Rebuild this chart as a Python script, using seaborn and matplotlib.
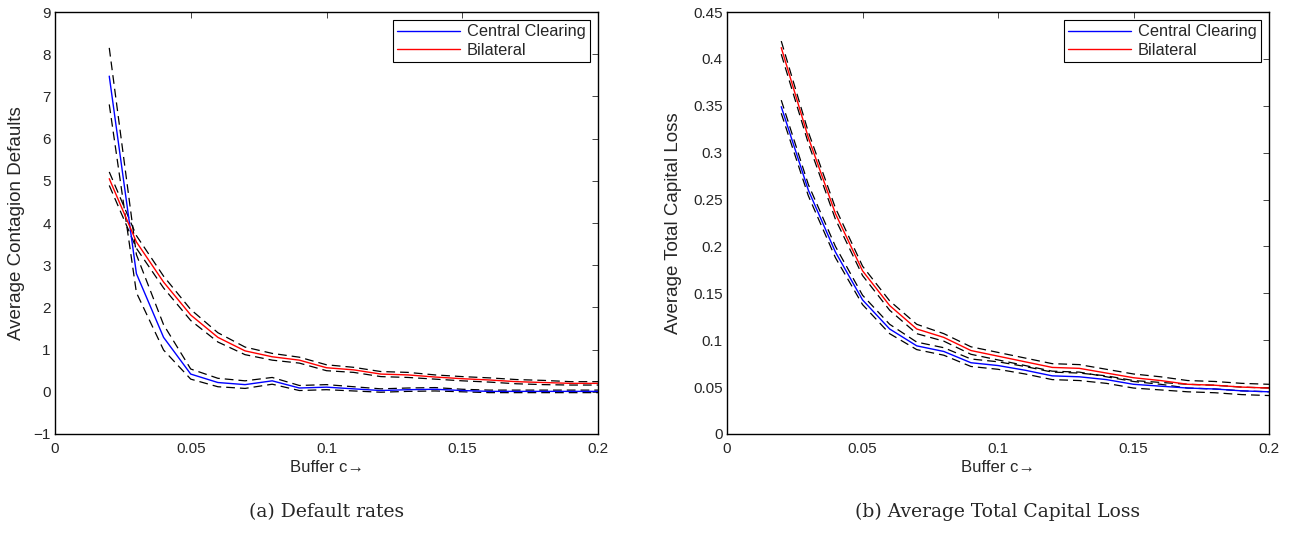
import numpy as np
import pandas as pd
import matplotlib
matplotlib.use("Agg")
import matplotlib.pyplot as plt
import seaborn as sns

buffer_c = [0.02, 0.03, 0.04, 0.05, 0.06, 0.07, 0.08, 0.09, 0.10, 0.11,
            0.12, 0.13, 0.14, 0.15, 0.16, 0.17, 0.18, 0.19, 0.20]

# Panel (a): average contagion defaults
defaults_central = [7.48, 2.80, 1.29, 0.42, 0.22, 0.17, 0.26, 0.09, 0.11, 0.07,
                    0.03, 0.05, 0.06, 0.03, 0.01, 0.01, 0.01, 0.01, 0.01]
defaults_central_ci = [0.67, 0.45, 0.30, 0.12, 0.10, 0.09, 0.08, 0.06, 0.06, 0.05,
                       0.04, 0.04, 0.04, 0.03, 0.03, 0.03, 0.03, 0.03, 0.03]
defaults_bilateral = [5.05, 3.55, 2.60, 1.82, 1.29, 0.97, 0.83, 0.75, 0.57, 0.52,
                      0.42, 0.40, 0.35, 0.31, 0.28, 0.24, 0.22, 0.20, 0.20]
defaults_bilateral_ci = [0.16, 0.15, 0.14, 0.13, 0.11, 0.09, 0.08, 0.07, 0.07, 0.06,
                         0.06, 0.06, 0.05, 0.05, 0.05, 0.05, 0.05, 0.04, 0.04]

# Panel (b): average total capital loss
loss_central = [0.349, 0.260, 0.194, 0.143, 0.112, 0.094, 0.088, 0.076, 0.073, 0.068,
                0.062, 0.061, 0.058, 0.053, 0.051, 0.049, 0.048, 0.046, 0.045]
loss_central_ci = [0.007, 0.006, 0.006, 0.005, 0.005, 0.004, 0.004, 0.004, 0.004, 0.004,
                   0.004, 0.004, 0.004, 0.004, 0.004, 0.004, 0.004, 0.004, 0.004]
loss_bilateral = [0.412, 0.316, 0.235, 0.174, 0.137, 0.112, 0.103, 0.089, 0.083, 0.077,
                  0.071, 0.070, 0.065, 0.060, 0.057, 0.053, 0.052, 0.050, 0.049]
loss_bilateral_ci = [0.007, 0.006, 0.006, 0.005, 0.005, 0.005, 0.004, 0.004, 0.004, 0.004,
                     0.004, 0.004, 0.004, 0.004, 0.004, 0.004, 0.004, 0.004, 0.004]

series_names = ["Central Clearing", "Bilateral"]
captions = ["(a) Default rates", "(b) Average Total Capital Loss"]
ylabels = ["Average Contagion Defaults", "Average Total Capital Loss"]
xlabel = "Buffer c\u2192"

sns.set_style("white")
plt.rcParams["font.family"] = ["Liberation Sans", "DejaVu Sans"]

fig = plt.figure(figsize=(12.99, 5.36), dpi=100)
ax1 = fig.add_axes([0.0423, 0.1903, 0.4181, 0.7873])
ax2 = fig.add_axes([0.5597, 0.1903, 0.4172, 0.7873])

palette = {"Central Clearing": "#0000ff", "Bilateral": "#ff0000"}


def make_df(central, central_ci, bilateral, bilateral_ci):
    rows = []
    for name, vals, ci in [("Central Clearing", central, central_ci),
                           ("Bilateral", bilateral, bilateral_ci)]:
        for x, v, c in zip(buffer_c, vals, ci):
            rows.append({"c": x, "value": v, "lo": v - c, "hi": v + c, "series": name})
    return pd.DataFrame(rows)


panels = [
    (ax1, make_df(defaults_central, defaults_central_ci, defaults_bilateral, defaults_bilateral_ci),
     (-1, 9), np.arange(-1, 10, 1), [str(v) if v >= 0 else "\u22121" for v in range(-1, 10)],
     -0.0552),
    (ax2, make_df(loss_central, loss_central_ci, loss_bilateral, loss_bilateral_ci),
     (0, 0.45), np.arange(0, 0.451, 0.05),
     ["0", "0.05", "0.1", "0.15", "0.2", "0.25", "0.3", "0.35", "0.4", "0.45"],
     -0.083),
]

for i, (ax, df, ylim, yticks, ylabs, ylab_x) in enumerate(panels):
    for name in series_names:
        sub = df[df["series"] == name]
        for col in ["lo", "hi"]:
            sns.lineplot(data=sub, x="c", y=col, ax=ax, color="black",
                         linewidth=0.9, dashes=False, linestyle=(0, (7, 4)),
                         legend=False, errorbar=None)
    sns.lineplot(data=df, x="c", y="value", hue="series", hue_order=series_names,
                 palette=palette, ax=ax, linewidth=1.0, errorbar=None)
    ax.set_xlim(0, 0.2)
    ax.set_ylim(*ylim)
    ax.set_xticks([0, 0.05, 0.1, 0.15, 0.2])
    ax.set_xticklabels(["0", "0.05", "0.1", "0.15", "0.2"])
    ax.set_yticks(yticks)
    ax.set_yticklabels(ylabs)
    ax.tick_params(direction="in", top=True, right=True, length=4, width=0.6,
                   labelsize=11, pad=3)
    ax.tick_params(axis="x", pad=6)
    for sp in ax.spines.values():
        sp.set_linewidth(1.0)
        sp.set_color("black")
    ax.set_xlabel(xlabel, fontsize=12)
    ax.set_ylabel(ylabels[i], fontsize=13.5)
    ax.xaxis.set_label_coords(0.5, -0.0616)
    ax.yaxis.set_label_coords(ylab_x, 0.5)
    leg = ax.legend(loc="upper right", fontsize=11.8, frameon=True, fancybox=False,
                    edgecolor="black", framealpha=1, handlelength=3.8,
                    borderaxespad=0.5, borderpad=0.25, labelspacing=0.2,
                    handletextpad=0.45)
    leg.get_frame().set_linewidth(0.8)
    for h in leg.get_lines():
        h.set_linewidth(1.0)
    ax.text(0.5, -0.185, captions[i], transform=ax.transAxes, ha="center", va="center",
            fontsize=13.5, family=["DejaVu Serif"])

fig.savefig("out.png", dpi=100)
